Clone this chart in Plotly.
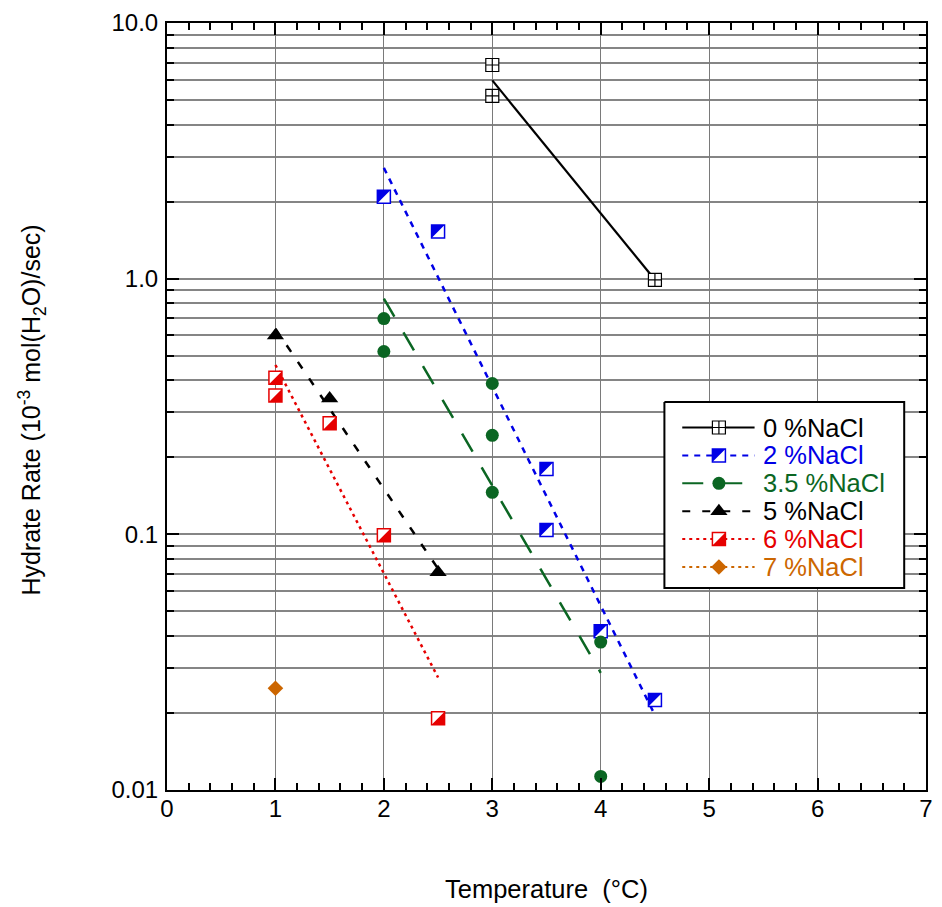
import numpy as np
import plotly.graph_objects as go

# Hydrate formation rate (1e-3 mol H2O / s) against temperature, by NaCl content
temp_0 = [3.0, 3.0, 4.5]
rate_0 = [6.85, 5.19, 0.99]

temp_2 = [2.0, 2.5, 3.5, 3.5, 4.0, 4.5]
rate_2 = [2.09, 1.53, 0.180, 0.104, 0.0418, 0.0225]

temp_35 = [2.0, 2.0, 3.0, 3.0, 3.0, 4.0, 4.0]
rate_35 = [0.698, 0.519, 0.389, 0.244, 0.146, 0.0379, 0.0113]

temp_5 = [1.0, 1.5, 2.5]
rate_5 = [0.599, 0.340, 0.0711]

temp_6 = [1.0, 1.0, 1.5, 2.0, 2.5]
rate_6 = [0.410, 0.349, 0.272, 0.0991, 0.0191]

temp_7 = [1.0]
rate_7 = [0.0250]

series_labels = ["0 %NaCl", "2 %NaCl", "3.5 %NaCl", "5 %NaCl", "6 %NaCl", "7 %NaCl"]

x_tick_vals = [0, 1, 2, 3, 4, 5, 6, 7]
y_tick_vals = [0.01, 0.1, 1.0, 10.0]
y_tick_text = ["0.01", "0.1", "1.0", "10.0"]
y_decades = [0.01, 0.1, 1.0]
y_minor_digits = [2, 3, 4, 5, 6, 7, 8, 9]

FONT = "Liberation Sans, Arial, Helvetica, sans-serif"
BLUE = "#0000E6"
GREEN = "#0B6623"
RED = "#E60000"
ORANGE = "#CC6600"

# marker kinds: "sym" uses a plotly symbol, "half_ul"/"half_lr" draw a
# square with one diagonal half filled
styles = [
    dict(color="black", dash="solid", width=2.2, kind="sym", symbol="square-cross", size=13, fill="white"),
    dict(color=BLUE, dash="6px,6px", width=2.5, kind="half_ul", size=13),
    dict(color=GREEN, dash="21px,18px", width=2.5, kind="sym", symbol="circle", size=13, fill=GREEN),
    dict(color="black", dash="8px,12px", width=2.5, kind="sym", symbol="triangle-up", size=15, fill="black"),
    dict(color=RED, dash="3px,4px", width=2.5, kind="half_lr", size=13),
    dict(color=ORANGE, dash="3px,4px", width=2.5, kind="sym", symbol="diamond", size=12, fill=ORANGE),
]

series = [(temp_0, rate_0), (temp_2, rate_2), (temp_35, rate_35),
          (temp_5, rate_5), (temp_6, rate_6), (temp_7, rate_7)]

fig = go.Figure()
shapes = []


def half_path(half, h):
    # pixel path relative to the anchor, y pointing up
    if half == "half_ul":
        return f"M{-h},{h} L{h},{h} L{-h},{-h} Z"
    return f"M{h},{h} L{h},{-h} L{-h},{-h} Z"


def marker_spec(st):
    if st["kind"] == "sym":
        lw = 1.2 if st["symbol"] == "square-cross" else 0
        return dict(symbol=st["symbol"], size=st["size"], color=st["fill"],
                    line=dict(color=st["color"], width=lw))
    return dict(symbol="square", size=st["size"], color="white",
                line=dict(color=st["color"], width=1.5))


def add_half_shapes(st, xs, ys, xref, yref):
    if st["kind"] == "sym":
        return
    h = st["size"] / 2
    for xv, yv in zip(xs, ys):
        shapes.append(dict(type="path", xref=xref, yref=yref,
                           xsizemode="pixel", ysizemode="pixel",
                           xanchor=xv, yanchor=yv,
                           path=half_path(st["kind"], h),
                           fillcolor=st["color"], line=dict(width=0),
                           layer="above"))


# exponential least-squares trend lines (straight on the log axis)
for (xs, ys), st in zip(series, styles):
    if len(set(xs)) < 2:
        continue
    slope, icpt = np.polyfit(np.array(xs), np.log10(np.array(ys)), 1)
    xf = np.array([min(xs), max(xs)])
    yf = 10 ** (icpt + slope * xf)
    fig.add_trace(go.Scatter(x=xf, y=yf, mode="lines", showlegend=False,
                             line=dict(color=st["color"], dash=st["dash"], width=st["width"]),
                             hoverinfo="skip"))

# data points
for (xs, ys), st, name in zip(series, styles, series_labels):
    fig.add_trace(go.Scatter(x=xs, y=ys, mode="markers", name=name, showlegend=False,
                             marker=marker_spec(st), cliponaxis=False))
    add_half_shapes(st, xs, ys, "x", "y")

# ---- key box, laid out on an overlay axis measured in figure pixels ----
KEY_LEFT, KEY_RIGHT, KEY_TOP, KEY_BOTTOM = 669, 911, 402, 588
KEY_ROW0, KEY_STEP = 427.5, 27.9
KEY_LINE_X0, KEY_LINE_X1, KEY_MARK_X, KEY_TEXT_X = 687, 760, 724, 766

fig.add_trace(go.Scatter(
    x=[KEY_LEFT, KEY_RIGHT, KEY_RIGHT, KEY_LEFT, KEY_LEFT],
    y=[KEY_TOP, KEY_TOP, KEY_BOTTOM, KEY_BOTTOM, KEY_TOP],
    xaxis="x2", yaxis="y2", mode="lines", fill="toself", fillcolor="white",
    line=dict(color="black", width=2), showlegend=False, hoverinfo="skip"))

annotations = []
for i, (st, name) in enumerate(zip(styles, series_labels)):
    ry = KEY_ROW0 + i * KEY_STEP
    fig.add_trace(go.Scatter(x=[KEY_LINE_X0, KEY_LINE_X1], y=[ry, ry], xaxis="x2", yaxis="y2",
                             mode="lines", showlegend=False, hoverinfo="skip",
                             line=dict(color=st["color"], dash=st["dash"], width=2)))
    fig.add_trace(go.Scatter(x=[KEY_MARK_X], y=[ry], xaxis="x2", yaxis="y2",
                             mode="markers", showlegend=False, hoverinfo="skip",
                             marker=marker_spec(st)))
    add_half_shapes(st, [KEY_MARK_X], [ry], "x2", "y2")
    annotations.append(dict(x=KEY_TEXT_X, y=ry, xref="x2", yref="y2", text=name,
                            showarrow=False, xanchor="left", yanchor="middle",
                            font=dict(family=FONT, size=25.5, color=st["color"])))

# axis titles (paper coordinates)
annotations.append(dict(x=0.5, y=-0.129, xref="paper", yref="paper",
                        text="Temperature\u00a0\u00a0(°C)",
                        showarrow=False, xanchor="center", yanchor="middle",
                        font=dict(family=FONT, size=25.5, color="black")))
annotations.append(dict(x=-0.1775, y=0.495, xref="paper", yref="paper",
                        text="Hydrate Rate (10<sup>-3</sup> mol(H<sub>2</sub>O)/sec)",
                        textangle=-90, showarrow=False, xanchor="center", yanchor="middle",
                        font=dict(family=FONT, size=25, color="black")))

y_minor_vals = [d * m for d in y_decades for m in y_minor_digits]

fig.update_layout(
    width=942, height=907,
    margin=dict(l=167, r=9, t=23, b=117),
    paper_bgcolor="white", plot_bgcolor="white",
    font=dict(family=FONT, size=24, color="black"),
    showlegend=False,
    shapes=shapes,
    annotations=annotations,
    xaxis=dict(
        range=[0, 7], tickmode="array", tickvals=x_tick_vals,
        ticks="inside", ticklen=12, tickwidth=1.5, tickcolor="black",
        showline=True, linecolor="black", linewidth=2, mirror="allticks",
        showgrid=True, gridcolor="#7a7a7a", gridwidth=1, zeroline=False,
        ticklabelstandoff=-4,
        minor=dict(dtick=0.2, ticks="inside", ticklen=7, tickwidth=1.5,
                   tickcolor="black", showgrid=False),
        tickfont=dict(family=FONT, size=24, color="black"),
    ),
    yaxis=dict(
        type="log", range=[-2, 1], tickmode="array",
        tickvals=y_tick_vals, ticktext=y_tick_text,
        ticks="inside", ticklen=12, tickwidth=1.5, tickcolor="black",
        showline=True, linecolor="black", linewidth=2, mirror="allticks",
        showgrid=True, gridcolor="#858585", gridwidth=1.5, zeroline=False,
        ticklabelstandoff=2,
        minor=dict(tickmode="array", tickvals=y_minor_vals, ticks="inside", ticklen=7,
                   tickwidth=1.5, tickcolor="black", showgrid=True,
                   gridcolor="#858585", gridwidth=1.5),
        tickfont=dict(family=FONT, size=24, color="black"),
    ),
    xaxis2=dict(overlaying="x", range=[167, 933], visible=False, anchor="y2"),
    yaxis2=dict(overlaying="y", range=[790, 23], visible=False, anchor="x2"),
)

fig.write_html("out.html")
